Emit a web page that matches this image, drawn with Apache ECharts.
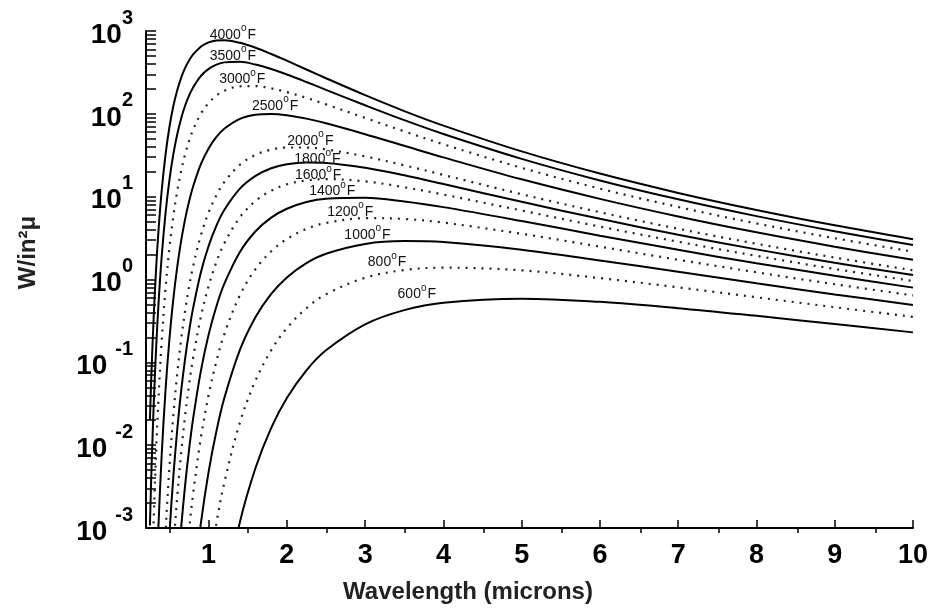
<!DOCTYPE html>
<html><head><meta charset="utf-8">
<script src="https://cdn.jsdelivr.net/npm/echarts@6/dist/echarts.min.js"></script>
<style>html,body{margin:0;padding:0;background:#fff}#c{width:931px;height:609px}</style>
</head><body><div id="c"></div>
<script>
// Wavelength samples (microns)
const wavelengths = [0.25, 0.27, 0.3, 0.33, 0.36, 0.4, 0.45, 0.5, 0.55, 0.6, 0.65, 0.7, 0.75, 0.8, 0.9, 1.0, 1.1, 1.2, 1.4, 1.6, 1.8, 2.0, 2.25, 2.5, 3, 3.5, 4, 5, 6, 7, 8, 9, 10];
// Spectral emissive power, W/in²μ, read per temperature (null = off the chart)
const t4000 = [0.0202, 0.0767, 0.389, 1.40, 3.94, 11.7, 32.5, 69.8, 125, 194, 274, 358, 441, 518, 646, 728, 768, 774, 720, 628, 528, 438, 343, 269, 168, 108, 72.1, 35.2, 19.0, 11.1, 6.91, 4.51, 3.07];
const t3500 = [0.00107, 0.00507, 0.0338, 0.152, 0.514, 1.87, 6.37, 16.1, 32.8, 57.2, 88.7, 126, 166, 207, 286, 349, 393, 418, 424, 393, 347, 298, 242, 195, 127, 83.9, 57.1, 28.6, 15.7, 9.29, 5.82, 3.83, 2.61];
const t3000 = [null, 0.000153, 0.00144, 0.00867, 0.0372, 0.176, 0.780, 2.43, 5.88, 11.8, 20.7, 32.6, 47.0, 63.6, 99.8, 135, 166, 190, 215, 216, 203, 183, 156, 130, 89.3, 61.4, 42.9, 22.3, 12.5, 7.51, 4.75, 3.15, 2.17];
const t2500 = [null, null, null, 0.000188, 0.00111, 0.00744, 0.0470, 0.194, 0.591, 1.44, 2.96, 5.35, 8.72, 13.1, 24.5, 38.2, 52.6, 66.1, 86.8, 97.4, 99.7, 96.2, 87.5, 76.9, 56.8, 41.1, 29.8, 16.2, 9.41, 5.77, 3.71, 2.49, 1.73];
const t2000 = [null, null, null, null, null, 0.0000872, 0.000902, 0.00553, 0.0233, 0.0743, 0.192, 0.422, 0.814, 1.42, 3.39, 6.46, 10.4, 15.0, 24.3, 32.0, 36.9, 39.2, 39.2, 37.2, 30.6, 23.9, 18.3, 10.7, 6.49, 4.10, 2.70, 1.84, 1.29];
const t1800 = [null, null, null, null, null, null, 0.000114, 0.000857, 0.00427, 0.0157, 0.0458, 0.111, 0.235, 0.442, 1.21, 2.54, 4.47, 6.90, 12.5, 17.8, 22.0, 24.6, 25.8, 25.5, 22.3, 18.1, 14.2, 8.68, 5.40, 3.47, 2.31, 1.59, 1.13];
const t1600 = [null, null, null, null, null, null, null, 0.0000925, 0.000565, 0.00246, 0.00825, 0.0227, 0.0532, 0.110, 0.350, 0.835, 1.63, 2.73, 5.64, 8.90, 11.8, 14.1, 15.7, 16.3, 15.3, 13.0, 10.6, 6.80, 4.35, 2.86, 1.93, 1.34, 0.959];
const t1400 = [null, null, null, null, null, null, null, null, null, 0.000258, 0.00103, 0.00329, 0.00878, 0.0203, 0.0779, 0.216, 0.476, 0.885, 2.15, 3.82, 5.58, 7.14, 8.61, 9.45, 9.67, 8.76, 7.48, 5.08, 3.38, 2.28, 1.57, 1.11, 0.798];
const t1200 = [null, null, null, null, null, null, null, null, null, null, null, 0.000299, 0.000935, 0.00249, 0.0121, 0.0403, 0.103, 0.218, 0.648, 1.34, 2.19, 3.08, 4.08, 4.82, 5.50, 5.38, 4.86, 3.56, 2.49, 1.73, 1.22, 0.877, 0.642];
const t1000 = [null, null, null, null, null, null, null, null, null, null, null, null, null, 0.000172, 0.00112, 0.00475, 0.0148, 0.0368, 0.141, 0.352, 0.669, 1.06, 1.58, 2.05, 2.69, 2.91, 2.83, 2.29, 1.70, 1.24, 0.899, 0.661, 0.493];
const t800 = [null, null, null, null, null, null, null, null, null, null, null, null, null, null, null, 0.000284, 0.00114, 0.00351, 0.0188, 0.0605, 0.140, 0.259, 0.450, 0.663, 1.05, 1.30, 1.39, 1.29, 1.04, 0.804, 0.610, 0.463, 0.354];
const t600 = [null, null, null, null, null, null, null, null, null, null, null, null, null, null, null, null, null, 0.000138, 0.00118, 0.00534, 0.0162, 0.0372, 0.0802, 0.140, 0.288, 0.427, 0.525, 0.586, 0.537, 0.451, 0.364, 0.290, 0.230];

const curveNames = ['4000', '3500', '3000', '2500', '2000', '1800', '1600', '1400', '1200', '1000', '800', '600'];
const curveValues = [t4000, t3500, t3000, t2500, t2000, t1800, t1600, t1400, t1200, t1000, t800, t600];
const curveDotted = [false, false, true, false, true, false, true, false, true, false, true, false];
// where each temperature label sits (wavelength, W/in²μ)
const labelAnchors = [[1.31, 900], [1.31, 500], [1.43, 259], [1.85, 124], [2.30, 47], [2.39, 28], [2.40, 18], [2.58, 11.6], [2.81, 6.5], [3.03, 3.45], [3.28, 1.6], [3.66, 0.66]];

const xTickLabels = [1, 2, 3, 4, 5, 6, 7, 8, 9, 10];
const xMinorTicks = [0.5, 1.5, 2.5, 3.5, 4.5, 5.5, 6.5, 7.5, 8.5, 9.5];
const yTickExponents = [-3, -2, -1, 0, 1, 2, 3];

const FONT = '"Liberation Sans", Arial, Helvetica, sans-serif';
const yMajor = yTickExponents.map(e => Number(Math.pow(10, e).toPrecision(3)));
const yTicks = [];
for (let i = 0; i < yTickExponents.length - 1; i++) {
  for (let m = 1; m <= 9; m++) yTicks.push(Number((m * Math.pow(10, yTickExponents[i])).toPrecision(3)));
}
yTicks.push(yMajor[yMajor.length - 1]);

const gridBox = { left: 146, top: 31, right: 16, bottom: 76 };

const series = curveNames.map((name, k) => {
  const data = [];
  wavelengths.forEach((w, i) => { if (curveValues[k][i] != null) data.push([w, curveValues[k][i]]); });
  return {
    name: name + '°F',
    type: 'line',
    xAxisIndex: 0, yAxisIndex: 0,
    data: data,
    showSymbol: false,
    symbol: 'none',
    smooth: 0.35,
    clip: true,
    lineStyle: curveDotted[k]
      ? { color: '#222', width: 2.2, type: [2, 6], cap: 'butt' }
      : { color: '#000', width: 2 },
    silent: true,
    animation: false,
    markPoint: {
      silent: true,
      symbol: 'circle',
      symbolSize: 1,
      itemStyle: { color: 'rgba(0,0,0,0)' },
      data: [{ coord: labelAnchors[k] }],
      label: {
        show: true,
        position: 'inside',
        formatter: '{n|' + name + '}{o|o}{f|F}',
        rich: {
          n: { fontFamily: FONT, fontSize: 14, color: '#111', lineHeight: 23, verticalAlign: 'middle' },
          o: { fontFamily: FONT, fontSize: 10, color: '#111', lineHeight: 10, verticalAlign: 'top' },
          f: { fontFamily: FONT, fontSize: 14, color: '#111', lineHeight: 23, verticalAlign: 'middle', padding: [0, 0, 0, 1] }
        }
      }
    }
  };
});

const chart = echarts.init(document.getElementById('c'), null, { renderer: 'canvas' });
chart.setOption({
  animation: false,
  backgroundColor: '#fff',
  grid: [Object.assign({}, gridBox), Object.assign({}, gridBox)],
  xAxis: [{
    type: 'value', gridIndex: 0, min: 0.2, max: 10,
    axisLine: { show: true, lineStyle: { color: '#000', width: 2 } },
    axisTick: { show: true, inside: true, length: 8, customValues: xTickLabels, lineStyle: { color: '#000', width: 1.5 } },
    axisLabel: {
      show: true, customValues: xTickLabels, margin: 14,
      fontFamily: FONT, fontSize: 27, fontWeight: 'bold', color: '#000',
      formatter: v => String(Math.round(v))
    },
    splitLine: { show: false },
    name: 'Wavelength (microns)', nameLocation: 'middle', nameGap: 52,
    nameTextStyle: { fontFamily: FONT, fontSize: 24, fontWeight: 'bold', color: '#222', padding: [0, 123, 0, 0] }
  }, {
    type: 'value', gridIndex: 1, min: 0.2, max: 10, position: 'bottom',
    axisLine: { show: false },
    axisTick: { show: true, inside: true, length: 4, customValues: xMinorTicks, lineStyle: { color: '#000', width: 1.5 } },
    axisLabel: { show: false },
    splitLine: { show: false }
  }],
  yAxis: [{
    type: 'log', logBase: 10, gridIndex: 0, min: 0.001, max: 1000,
    axisLine: { show: true, lineStyle: { color: '#000', width: 2 } },
    axisTick: { show: true, inside: true, length: 10, customValues: yTicks, lineStyle: { color: '#000', width: 1.5 } },
    minorTick: { show: false },
    axisLabel: {
      show: true, customValues: yMajor, margin: 13, padding: [8, 0, 0, 0],
      formatter: v => {
        const e = Math.round(Math.log10(v));
        return e < 0 ? '{a|10 }{b|' + e + '}' : '{a|10}{b|' + e + '}';
      },
      rich: {
        a: { fontFamily: FONT, fontSize: 28, fontWeight: 'bold', color: '#000', lineHeight: 54, verticalAlign: 'middle' },
        b: { fontFamily: FONT, fontSize: 20, fontWeight: 'bold', color: '#000', lineHeight: 20, verticalAlign: 'top' }
      }
    },
    splitLine: { show: false },
    name: 'W/in²μ', nameLocation: 'middle', nameGap: 106, nameRotate: 90,
    nameTextStyle: { fontFamily: FONT, fontSize: 24, fontWeight: 'bold', color: '#222', padding: [0, 0, 0, 54] }
  }, {
    type: 'log', logBase: 10, gridIndex: 1, min: 0.001, max: 1000,
    show: false
  }],
  series: series
});
</script>
</body></html>
